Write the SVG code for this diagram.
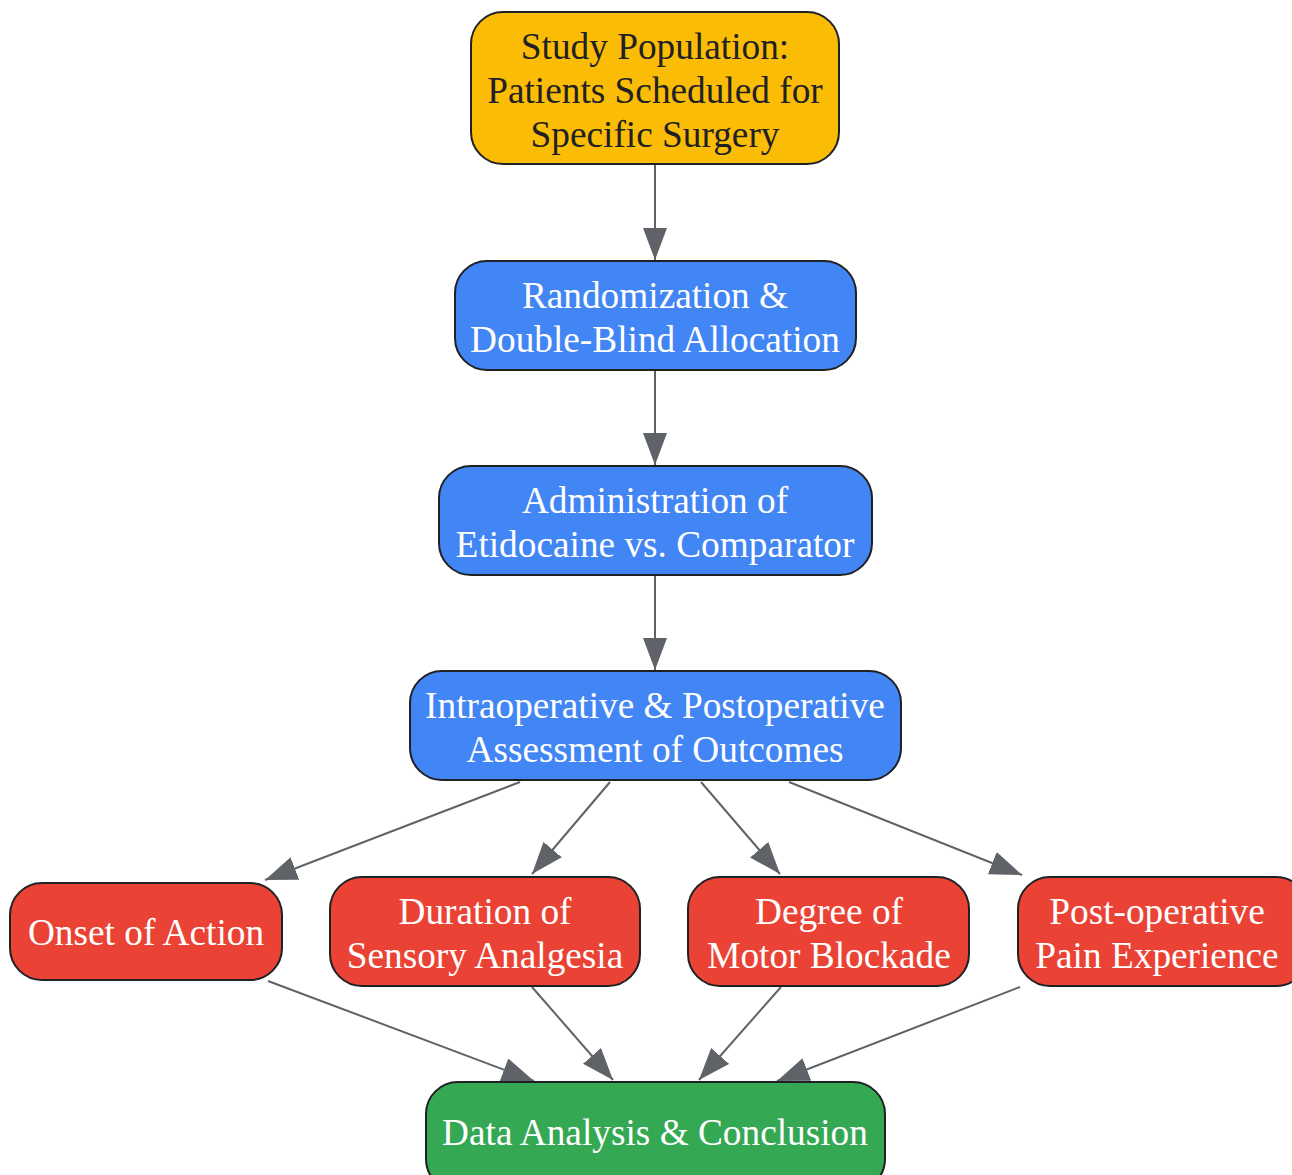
<svg xmlns="http://www.w3.org/2000/svg" width="1292" height="1175" viewBox="0 0 1292 1175">
<style>
.n{stroke:#202124;stroke-width:2}
.y{fill:#FBBC05}.b{fill:#4285F4}.r{fill:#EA4335}.g{fill:#34A853}
text{font-family:"Liberation Serif","Times New Roman",serif;font-size:37.3px;text-anchor:middle}
.w{fill:#ffffff}.d{fill:#202124}
.e{stroke:#5F6368;stroke-width:2;fill:none;marker-end:url(#a)}
</style>
<defs>
<marker id="a" markerUnits="userSpaceOnUse" markerWidth="34" markerHeight="24" refX="32" refY="12" orient="auto">
<path d="M0,0 L32,12 L0,24 Z" fill="#5F6368"/>
</marker>
</defs>
<g id="connectors">
<line class="e" x1="655" y1="165" x2="655" y2="260"/>
<line class="e" x1="655" y1="371" x2="655" y2="465"/>
<line class="e" x1="655" y1="576" x2="655" y2="670"/>
<line class="e" x1="520" y1="782" x2="265" y2="880"/>
<line class="e" x1="610" y1="782" x2="532" y2="874"/>
<line class="e" x1="701" y1="782" x2="780" y2="874"/>
<line class="e" x1="789" y1="782" x2="1022" y2="875"/>
<line class="e" x1="268" y1="981" x2="534" y2="1081"/>
<line class="e" x1="532" y1="987" x2="613" y2="1080"/>
<line class="e" x1="781" y1="987" x2="699" y2="1080"/>
<line class="e" x1="1020" y1="987" x2="777" y2="1081"/>
</g>
<g id="study">
<rect class="n y" x="471" y="12" width="368" height="152" rx="32"/>
<text class="d" x="655" y="59">Study Population:</text>
<text class="d" x="655" y="103">Patients Scheduled for</text>
<text class="d" x="655" y="147">Specific Surgery</text>
</g>
<g id="random">
<rect class="n b" x="455" y="261" width="401" height="109" rx="32"/>
<text class="w" x="655" y="308">Randomization &amp;</text>
<text class="w" x="655" y="352">Double-Blind Allocation</text>
</g>
<g id="admin">
<rect class="n b" x="439" y="466" width="433" height="109" rx="32"/>
<text class="w" x="655" y="513">Administration of</text>
<text class="w" x="655" y="557">Etidocaine vs. Comparator</text>
</g>
<g id="assess">
<rect class="n b" x="410" y="671" width="491" height="109" rx="32"/>
<text class="w" x="655" y="718">Intraoperative &amp; Postoperative</text>
<text class="w" x="655" y="762">Assessment of Outcomes</text>
</g>
<g id="onset">
<rect class="n r" x="10" y="883" width="272" height="97" rx="32"/>
<text class="w" x="146" y="945">Onset of Action</text>
</g>
<g id="duration">
<rect class="n r" x="330" y="877" width="310" height="109" rx="32"/>
<text class="w" x="485" y="924">Duration of</text>
<text class="w" x="485" y="968">Sensory Analgesia</text>
</g>
<g id="motor">
<rect class="n r" x="688" y="877" width="281" height="109" rx="32"/>
<text class="w" x="829" y="924">Degree of</text>
<text class="w" x="829" y="968">Motor Blockade</text>
</g>
<g id="pain">
<rect class="n r" x="1018" y="877" width="290" height="109" rx="32"/>
<text class="w" x="1157" y="924">Post-operative</text>
<text class="w" x="1157" y="968">Pain Experience</text>
</g>
<g id="analysis">
<rect class="n g" x="426" y="1082" width="459" height="109" rx="32"/>
<text class="w" x="655" y="1145">Data Analysis &amp; Conclusion</text>
</g>
</svg>
